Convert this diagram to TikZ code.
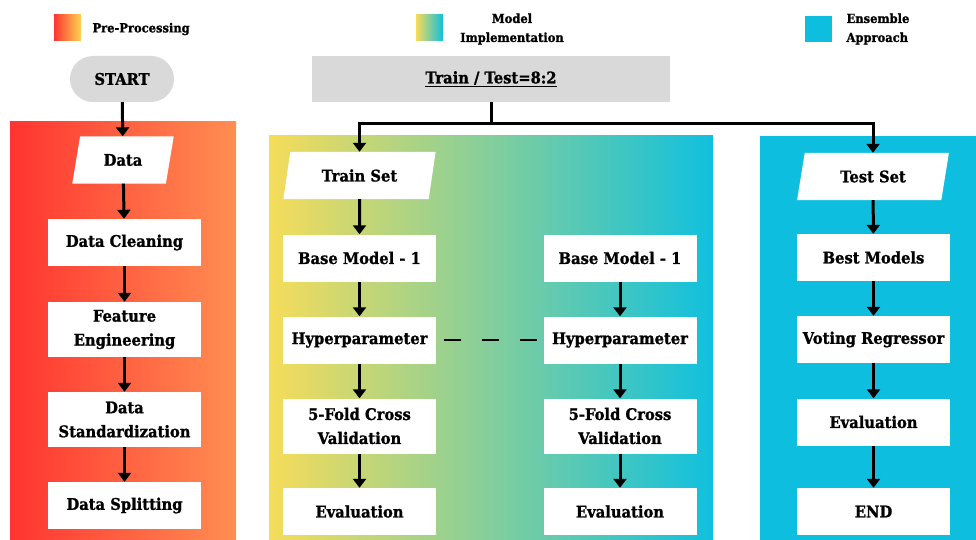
\documentclass[tikz,border=0pt]{standalone}
\usepackage{fontspec}
\setmainfont[FakeStretch=0.92,BoldFeatures={FakeBold=1.2}]{DejaVu Serif}
\usetikzlibrary{arrows.meta,shapes.geometric}

\definecolor{ppred}{RGB}{255,52,48}
\definecolor{pporange}{RGB}{255,142,82}
\definecolor{ppyellow}{RGB}{255,212,82}
\definecolor{miyellow}{RGB}{246,220,90}
\definecolor{migreen}{RGB}{140,208,150}
\definecolor{micyan}{RGB}{16,192,222}
\definecolor{enscyan}{RGB}{14,190,222}
\definecolor{keygray}{RGB}{217,217,217}

\begin{document}
\begin{tikzpicture}[x=1pt,y=-1pt,>={Triangle[width=13pt,length=9pt]},
  font=\fontsize{16}{24}\selectfont\bfseries,
  box/.style={fill=white,minimum width=153pt,minimum height=47pt,align=center,inner sep=2pt},
  tallbox/.style={box,minimum height=55pt},
  io/.style={trapezium,trapezium left angle=75,trapezium right angle=105,trapezium stretches=true,
    fill=white,minimum width=153pt,minimum height=47pt,inner sep=1pt},
  flow/.style={->,line width=3pt},
  swatch/.style={minimum width=27pt,minimum height=26pt,inner sep=0pt},
  legend/.style={font=\fontsize{12.5}{19}\selectfont\bfseries}]
\useasboundingbox[fill=white] (0,0) rectangle (976,540);
% stage panels
\fill[left color=ppred,right color=pporange] (10,122) rectangle (236,540);
\fill[left color=miyellow,middle color=migreen,right color=micyan] (269,136) rectangle (713,540);
\fill[enscyan] (760,136) rectangle (976,540);
% legend
\node[swatch,left color=ppred,right color=ppyellow] (ppkey) at (67.5,28) {};
\node[legend,anchor=west] (pptext) at (89,29) {Pre-Processing};
\node[swatch,left color=miyellow,right color=micyan] (mikey) at (429.5,28) {};
\node[legend,align=center] (mitext) at (512,29) {Model\\Implementation};
\node[swatch,fill=enscyan] (enskey) at (818.5,29) {};
\node[legend,align=left,anchor=west] (enstext) at (843,29) {Ensemble\\Approach};
% top row
\node[fill=keygray,rounded corners=23pt,minimum width=104pt,minimum height=46pt] (start) at (122,79) {START};
\node[fill=keygray,minimum width=358pt,minimum height=46pt] (split) at (491,79) {\underline{Train / Test=8:2}};
% pre-processing
\node[io,minimum width=102pt] (data) at (123,160) {Data};
\node[box] (clean) at (124.5,242.5) {Data Cleaning};
\node[tallbox] (feat) at (124.5,329.5) {Feature\\Engineering};
\node[tallbox] (stand) at (124.5,419.5) {Data\\Standardization};
\node[box] (splitting) at (124.5,505.5) {Data Splitting};
% model implementation
\node[io] (train) at (359.5,175.5) {Train Set};
\node[box] (base1) at (359.5,258) {Base Model - 1};
\node[box] (hyp1) at (359.5,340) {Hyperparameter};
\node[tallbox] (cv1) at (359.5,426) {5-Fold Cross\\Validation};
\node[box] (eval1) at (359.5,511.5) {Evaluation};
\node[box] (base2) at (620,258) {Base Model - 1};
\node[box] (hyp2) at (620,340) {Hyperparameter};
\node[tallbox] (cv2) at (620,426) {5-Fold Cross\\Validation};
\node[box] (eval2) at (620,511.5) {Evaluation};
% ensemble
\node[io] (test) at (873,176.5) {Test Set};
\node[box] (best) at (873.5,257.5) {Best Models};
\node[box] (vote) at (873.5,339.5) {Voting Regressor};
\node[box] (eval3) at (873.5,422) {Evaluation};
\node[box] (end) at (873.5,511.5) {END};
% connectors
\draw[flow] (start) -- (data);
\draw[flow] (data) -- (clean);
\draw[flow] (clean) -- (feat);
\draw[flow] (feat) -- (stand);
\draw[flow] (stand) -- (splitting);
\draw[line width=3pt] (split.south) -- ++(0,21) coordinate (fork);
\draw[flow] (fork) -| (train);
\draw[flow] (fork) -| (test);
\draw[flow] (train) -- (base1);
\draw[flow] (base1) -- (hyp1);
\draw[flow] (hyp1) -- (cv1);
\draw[flow] (cv1) -- (eval1);
\draw[flow] (base2) -- (hyp2);
\draw[flow] (hyp2) -- (cv2);
\draw[flow] (cv2) -- (eval2);
\draw[line width=2.5pt,dash pattern=on 17pt off 21pt,shorten <=8pt,shorten >=6pt] (hyp1) -- (hyp2);
\draw[flow] (test) -- (best);
\draw[flow] (best) -- (vote);
\draw[flow] (vote) -- (eval3);
\draw[flow] (eval3) -- (end);
\end{tikzpicture}
\end{document}
